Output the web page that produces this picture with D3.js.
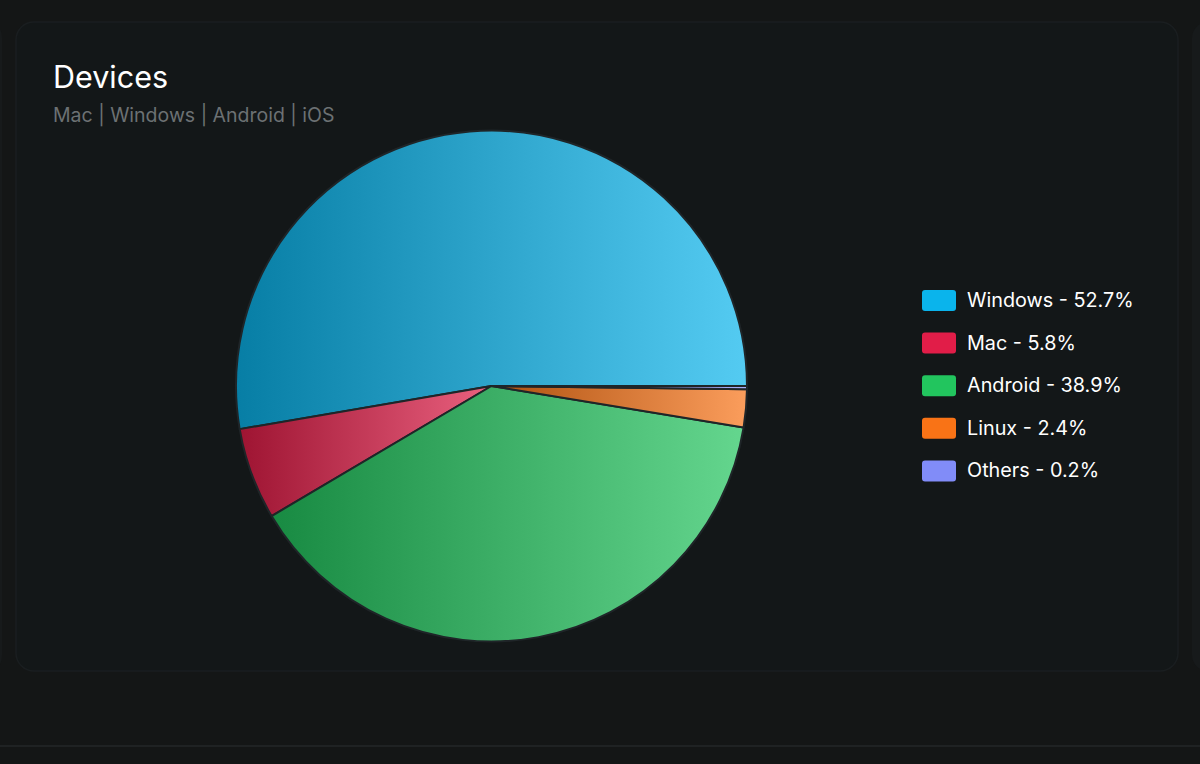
<!DOCTYPE html>
<html><head><meta charset="utf-8">
<script src="https://cdn.jsdelivr.net/npm/d3@7"></script>
<style>
html,body{margin:0;padding:0;background:#141616;width:1200px;height:764px;overflow:hidden;font-family:Inter,"Noto Sans",sans-serif;}
</style></head>
<body><svg id="c" width="1200" height="764"></svg>
<script>
const categories = ["Windows", "Mac", "Android", "Linux", "Others"];
const values = [52.7, 5.8, 38.9, 2.4, 0.2];
const colors = ["#0ab4ec", "#e11d48", "#22c55e", "#f97316", "#818cf8"];
const title = "Devices";
const subtitle = "Mac | Windows | Android | iOS";

const svg = d3.select("#c");
// background cards
svg.append("rect").attr("x",-20).attr("y",22).attr("width",22).attr("height",649).attr("rx",16).attr("fill","#171a1b");
svg.append("rect").attr("x",1192).attr("y",22).attr("width",40).attr("height",649).attr("rx",16).attr("fill","#171a1b");
svg.append("rect").attr("x",16).attr("y",22).attr("width",1162).attr("height",649).attr("rx",18)
  .attr("fill","#131718").attr("stroke","#1a1e20").attr("stroke-width",1.5);
svg.append("rect").attr("x",0).attr("y",745).attr("width",1200).attr("height",2).attr("fill","#1f2223");

svg.append("text").attr("x",53).attr("y",88).attr("fill","#ffffff").attr("font-size",30.5).attr("font-weight",400).text(title);
svg.append("text").attr("x",53).attr("y",122).attr("fill","#6c7173").attr("font-size",19.5).text(subtitle);

const cx = 491.5, cy = 386, r = 255.5;
const defs = svg.append("defs");
const data = categories.map((c,i)=>({name:c, value:values[i], color:colors[i]}));
data.forEach((d,i)=>{
  const g = defs.append("linearGradient").attr("id","g"+i)
    .attr("x1","0%").attr("x2","100%").attr("y1","0%").attr("y2","0%");
  g.append("stop").attr("offset","0%").attr("stop-color",d3.interpolateRgb(d.color,"#000")(0.3));
  g.append("stop").attr("offset","100%").attr("stop-color",d3.interpolateRgb(d.color,"#fff")(0.3));
});

const pie = d3.pie().sort(null).value(d=>d.value).startAngle(Math.PI/2).endAngle(Math.PI/2-2*Math.PI);
const arc = d3.arc().innerRadius(0).outerRadius(r);
const gp = svg.append("g").attr("transform",`translate(${cx},${cy})`);
gp.selectAll("path").data(pie(data)).join("path")
  .attr("d",arc).attr("fill",(d,i)=>`url(#g${i})`)
  .attr("stroke","#1f2528").attr("stroke-width",2).attr("stroke-linejoin","round");

const lg = svg.append("g").attr("transform","translate(922,290)");
const row = lg.selectAll("g").data(data).join("g").attr("transform",(d,i)=>`translate(0,${i*42.6})`);
row.append("rect").attr("width",34).attr("height",21).attr("rx",3).attr("fill",d=>d.color);
row.append("text").attr("x",45).attr("y",17).attr("fill","#ffffff").attr("font-size",19.8)
  .text(d=>`${d.name} - ${d.value}%`);
</script></body></html>
